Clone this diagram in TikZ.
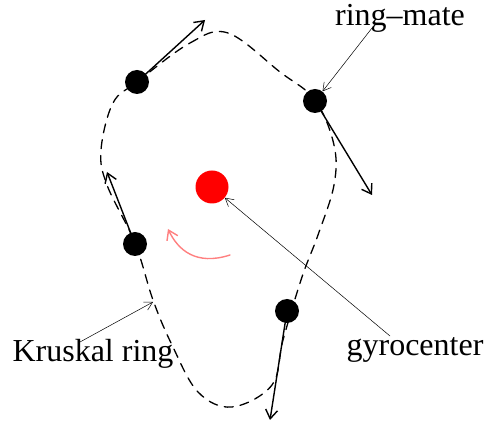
\documentclass[tikz,border=0pt]{standalone}
\usepackage{fontspec}
\setmainfont{Liberation Serif}
\usetikzlibrary{arrows.meta}
\begin{document}
\begin{tikzpicture}[x=1pt,y=-1pt,>={Straight Barb[length=9pt,width=12pt]}, line join=round, line cap=round, font=\fontsize{32}{37}\selectfont]
\tikzset{mate/.style={circle,fill,inner sep=0,minimum size=24pt},
  vel/.style={->,line width=1.4pt},
  lbl/.style={-{Straight Barb[length=8pt,width=9pt]},line width=0.5pt}}
\useasboundingbox (0,0) rectangle (485,427);
% the ring
\draw[line width=1.3pt,dash pattern=on 9pt off 7pt] plot[smooth cycle,tension=0.6] coordinates {(137,82) (190,43) (228,33) (280,72) (315,100) (334,145) (334,185) (318,235) (302,277) (283,340) (272,385) (232,407) (198,392) (172,345) (153,300) (135,243) (107,185) (101,150) (113,103)};
\node[mate] (m1) at (137,82) {};
\node[mate] (m2) at (315,101) {};
\node[mate] (m3) at (287,311) {};
\node[mate] (m4) at (135,244) {};
\node[circle,fill=red,inner sep=0,minimum size=33pt] (gc) at (212,187) {};
\coordinate (v1) at (205,20);
\coordinate (v2) at (372,195);
\coordinate (v3) at (270,420);
\coordinate (v4) at (107,172);
\draw[vel] (m1.center) -- (v1);
\draw[vel] (m2.center) -- (v2);
\draw[vel] (m3.center) -- (v3);
\draw[vel] (m4.center) -- (v4);
% drift
\coordinate (d0) at (230,255);
\coordinate (d1) at (168,229);
\draw[->,red!50,line width=1.4pt] (d0) .. controls (196,266) and (178,250) .. (d1);
% labels
\node (rm) at (400,18) {ring--mate};
\node (gy) at (415,350) {gyrocenter};
\node (kr) at (93,354) {Kruskal ring};
\coordinate (rm0) at (372,28);
\coordinate (gy0) at (390,336);
\coordinate (kr0) at (80,342);
\coordinate (kr1) at (153,302);
\draw[lbl] (rm0) -- (m2);
\draw[lbl] (gy0) -- (gc);
\draw[lbl] (kr0) -- (kr1);
\end{tikzpicture}
\end{document}
